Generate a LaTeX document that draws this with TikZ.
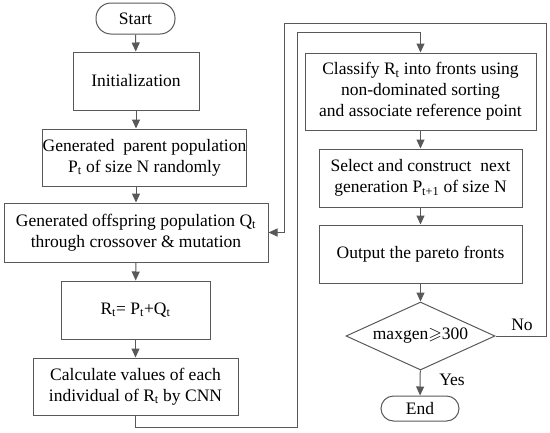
\documentclass[tikz,border=0pt]{standalone}
\usepackage{fontspec}
\setmainfont{Liberation Serif}
\usepackage{amssymb}
\usetikzlibrary{arrows.meta,shapes.geometric}
\definecolor{linec}{gray}{0.35}
\begin{document}
\begin{tikzpicture}[x=1pt,y=-1pt,
  box/.style={draw=linec, line width=1pt, inner sep=0pt, align=center, text=black,
    font=\fontsize{17.5}{21}\selectfont},
  term/.style={box, rounded corners=15pt},
  dec/.style={box, diamond, aspect=2.2},
  flow/.style={draw=linec, line width=1pt, -{Triangle[length=9pt,width=8pt]}},
  lbl/.style={font=\fontsize{17.5}{21}\selectfont, inner sep=0pt}]
\useasboundingbox (0,0) rectangle (550,432);
% left column
\node[term, minimum width=79pt, minimum height=31pt] (start) at (135.5,18.5) {Start};
\node[box, minimum width=126pt, minimum height=58pt] (init) at (136,81) {Initialization};
\node[box, minimum width=201pt, minimum height=57pt] (parent) at (144.5,157.5) {Generated\ \ parent population\\P\textsubscript{t} of size N randomly};
\node[box, minimum width=264pt, minimum height=59pt] (offs) at (136,232.5) {Generated offspring population Q\textsubscript{t}\\through crossover \& mutation};
\node[box, minimum width=149pt, minimum height=58pt] (rt) at (135.5,310) {R\textsubscript{t}= P\textsubscript{t}+Q\textsubscript{t}};
\node[box, minimum width=205pt, minimum height=57pt] (calc) at (135.5,386.5) {Calculate values of each\\individual of R\textsubscript{t} by CNN};
% right column
\node[box, minimum width=231pt, minimum height=77pt] (cls) at (420.5,91.5) {Classify R\textsubscript{t} into fronts using\\non-dominated sorting\\and associate reference point};
\node[box, minimum width=203pt, minimum height=58pt] (sel) at (420.5,178) {Select and construct\ \ next\\generation P\textsubscript{t+1} of size N};
\node[box, minimum width=203pt, minimum height=58pt] (out) at (420.5,254) {Output the pareto fronts};
\node[dec, minimum width=149pt, minimum height=68pt] (dia) at (420.5,336) {maxgen$\geqslant$300};
\node[term, minimum width=78pt, minimum height=25pt, rounded corners=12.5pt] (end) at (420,408.5) {End};
% labels
\node[lbl] (no) at (522,325) {No};
\node[lbl] (yes) at (452,380) {Yes};
% loop coordinates
\coordinate (c1) at (297,427);
\coordinate (c2) at (297,32);
\coordinate (n1) at (546,23);
\coordinate (n2) at (284,23);
% connectors
\draw[flow] (start) -- (init);
\draw[flow] (init.south) -- (init.south |- parent.north);
\draw[flow] (offs.north |- parent.south) -- (offs.north);
\draw[flow] (offs) -- (rt);
\draw[flow] (rt) -- (calc);
\draw[flow] (calc.south) |- (c1) -- (c2) -| (cls.north);
\draw[flow] (cls) -- (sel);
\draw[flow] (sel) -- (out);
\draw[flow] (out) -- (dia);
\draw[flow] (dia) -- (end);
\draw[flow] (dia.east) -| (n1) -- (n2) |- (offs.east);
\end{tikzpicture}
\end{document}
